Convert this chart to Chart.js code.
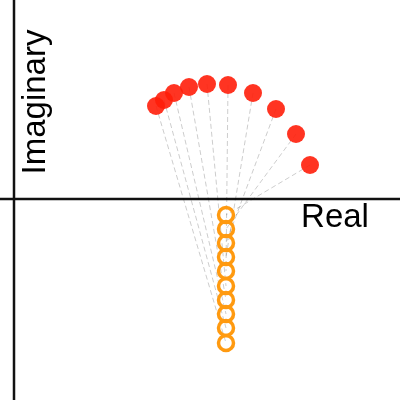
<!DOCTYPE html>
<html>
<head>
<meta charset="utf-8">
<script src="https://cdn.jsdelivr.net/npm/chart.js@4"></script>
<style>
  html, body { margin: 0; padding: 0; background: #fff; }
  canvas { display: block; }
</style>
</head>
<body>
<canvas id="chart" width="400" height="400"></canvas>
<script>
// mapped points (filled red) and source points (hollow orange), complex plane
const redReal = [1.42, 1.50, 1.60, 1.75, 1.93, 2.14, 2.39, 2.62, 2.82, 2.96];
const redImag = [0.93, 0.99, 1.06, 1.12, 1.15, 1.14, 1.06, 0.90, 0.65, 0.34];
const orangeReal = [2.12, 2.12, 2.12, 2.12, 2.12, 2.12, 2.12, 2.12, 2.12, 2.12];
const orangeImag = [-0.16, -0.30, -0.44, -0.58, -0.72, -0.87, -1.01, -1.15, -1.29, -1.44];
// red i is joined to orange (n - 1 - i)
const axisLabels = ['Real', 'Imaginary'];

const toPoints = (xs, ys) => xs.map((x, i) => ({x: x, y: ys[i]}));

const redPoints = toPoints(redReal, redImag);
const orangePoints = toPoints(orangeReal, orangeImag);

const links = redPoints.map((p, i) => ({
    type: 'scatter',
    data: [p, orangePoints[orangePoints.length - 1 - i]],
    showLine: true,
    borderColor: 'rgba(0,0,0,0.2)',
    borderWidth: 1,
    borderDash: [5, 3],
    pointRadius: 0,
    order: 3
}));

const axesPlugin = {
    id: 'axesLines',
    beforeDatasetsDraw(chart) {
        const {ctx, scales: {x, y}, chartArea} = chart;
        const x0 = x.getPixelForValue(0);
        const y0 = y.getPixelForValue(0);
        ctx.save();
        ctx.strokeStyle = '#111';
        ctx.lineWidth = 2.5;
        ctx.beginPath();
        ctx.moveTo(chartArea.left, y0);
        ctx.lineTo(chartArea.right, y0);
        ctx.moveTo(x0, chartArea.top);
        ctx.lineTo(x0, chartArea.bottom);
        ctx.stroke();
        ctx.restore();
    },
    afterDraw(chart) {
        const {ctx, scales: {x, y}} = chart;
        ctx.save();
        ctx.fillStyle = '#000';
        ctx.font = '33px "Liberation Sans", Arial, sans-serif';
        ctx.textAlign = 'center';
        ctx.textBaseline = 'middle';
        ctx.fillText(axisLabels[0], x.getPixelForValue(3.21), y.getPixelForValue(-0.19));
        ctx.translate(x.getPixelForValue(0.22), y.getPixelForValue(0.97));
        ctx.rotate(-Math.PI / 2);
        ctx.fillText(axisLabels[1], 0, 0);
        ctx.restore();
    }
};

new Chart(document.getElementById('chart'), {
    type: 'scatter',
    data: {
        datasets: [
            {
                data: redPoints,
                backgroundColor: 'rgba(255,30,10,0.9)',
                borderWidth: 0,
                pointRadius: 9,
                order: 1
            },
            {
                data: orangePoints,
                backgroundColor: 'rgba(0,0,0,0)',
                borderColor: '#ff9a10',
                borderWidth: 3.5,
                pointRadius: 7.5,
                order: 2
            },
            ...links
        ]
    },
    options: {
        responsive: false,
        animation: false,
        layout: { padding: 0, autoPadding: false },
        plugins: {
            legend: { display: false },
            tooltip: { enabled: false }
        },
        scales: {
            x: { type: 'linear', min: -0.14, max: 3.86, display: false },
            y: { type: 'linear', min: -2.01, max: 1.99, display: false }
        }
    },
    plugins: [axesPlugin]
});
</script>
</body>
</html>
